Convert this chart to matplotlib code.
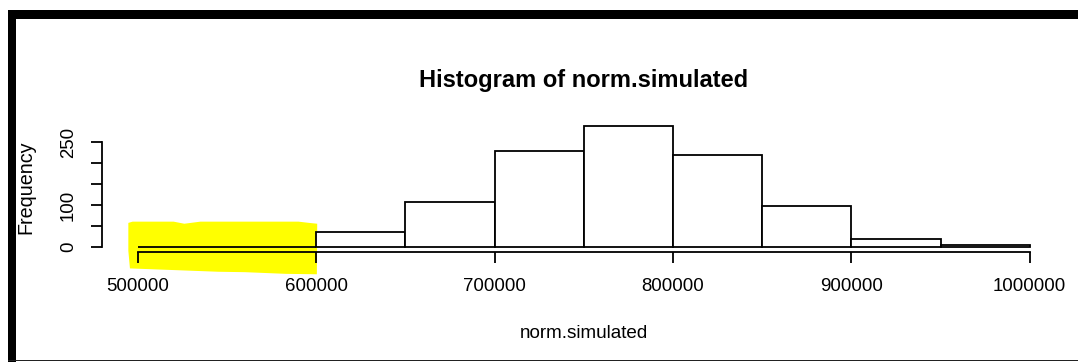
import matplotlib
matplotlib.use('Agg')
from matplotlib import pyplot as plt
from matplotlib.patches import Rectangle, Polygon

plt.rcParams['font.family'] = ['Liberation Sans', 'DejaVu Sans']

# Histogram breaks and counts of norm.simulated
bin_edges = [500000, 550000, 600000, 650000, 700000, 750000,
             800000, 850000, 900000, 950000, 1000000]
counts = [0, 0, 35, 108, 230, 288, 220, 98, 18, 3]
x_ticks = [500000, 600000, 700000, 800000, 900000, 1000000]
y_ticks = [0, 50, 100, 150, 200, 250]
y_tick_labels = ['0', '', '100', '', '', '250']

W, H = 1078, 362
fig = plt.figure(figsize=(W / 100, H / 100), dpi=100)
fig.patch.set_facecolor('white')

# plot region in pixels: left 102.3, right 1065.4, top 121.6, bottom 252.3
ax_l, ax_w, ax_b, ax_h = 102.3, 963.1, 252.3, 130.7
ax = fig.add_axes([ax_l / W, (H - ax_b) / H, ax_w / W, ax_h / H])
ax.set_facecolor('none')

lw = 1.3
ax.hist(bin_edges[:-1], bins=bin_edges, weights=counts,
        facecolor='white', edgecolor='black', linewidth=lw, zorder=2)

ax.set_xlim(480000, 1020000)
ax.set_ylim(-13.4, 299.6)

# R-style axes: only left and bottom, bounded to the tick range
for side in ['top', 'right']:
    ax.spines[side].set_visible(False)
ax.spines['left'].set_bounds(0, 250)
ax.spines['bottom'].set_bounds(500000, 1000000)
for side in ['left', 'bottom']:
    ax.spines[side].set_linewidth(lw)

ax.set_xticks(x_ticks)
ax.set_xticklabels([str(t) for t in x_ticks])
ax.set_yticks(y_ticks)
ax.set_yticklabels(y_tick_labels, rotation=90, va='center')
ax.tick_params(axis='both', direction='out', length=7.8, width=lw,
               labelsize=13.4, colors='black')
ax.tick_params(axis='x', pad=11)
ax.tick_params(axis='y', pad=10.5)

ax.set_title('Histogram of norm.simulated', fontsize=17, fontweight='bold', pad=24.7)
ax.set_xlabel('norm.simulated', fontsize=13.6)
ax.xaxis.set_label_coords(0.5, (ax_b - 325.5) / ax_h)
ax.set_ylabel('Frequency', fontsize=14.2)
ax.yaxis.set_label_coords((35 - ax_l) / ax_w, 0.5)

# yellow highlighter stroke over the empty bins
mark = [(494600, 57), (497000, 60), (520000, 60), (526000, 55), (535000, 60),
        (590000, 60), (596000, 57), (600500, 55), (600300, -66), (583000, -65),
        (560000, -61), (545000, -60), (495500, -52), (494600, -10)]
ax.add_patch(Polygon(mark, closed=True, facecolor='#ffff00', edgecolor='none',
                     clip_on=False, zorder=0.5))

# screenshot frame: heavy top and left bars, thin bottom line
fig.add_artist(Rectangle((7.5 / W, 1 - 19 / H), 1 - 7.5 / W, 8.5 / H,
                         transform=fig.transFigure, facecolor='black', edgecolor='none'))
fig.add_artist(Rectangle((7.5 / W, 0), 8 / W, 1 - 10.5 / H,
                         transform=fig.transFigure, facecolor='black', edgecolor='none'))
fig.add_artist(Rectangle((7.5 / W, 1 / H), 1 - 7.5 / W, 1.2 / H,
                         transform=fig.transFigure, facecolor='#222222', edgecolor='none'))

fig.savefig('out.png', dpi=100)
